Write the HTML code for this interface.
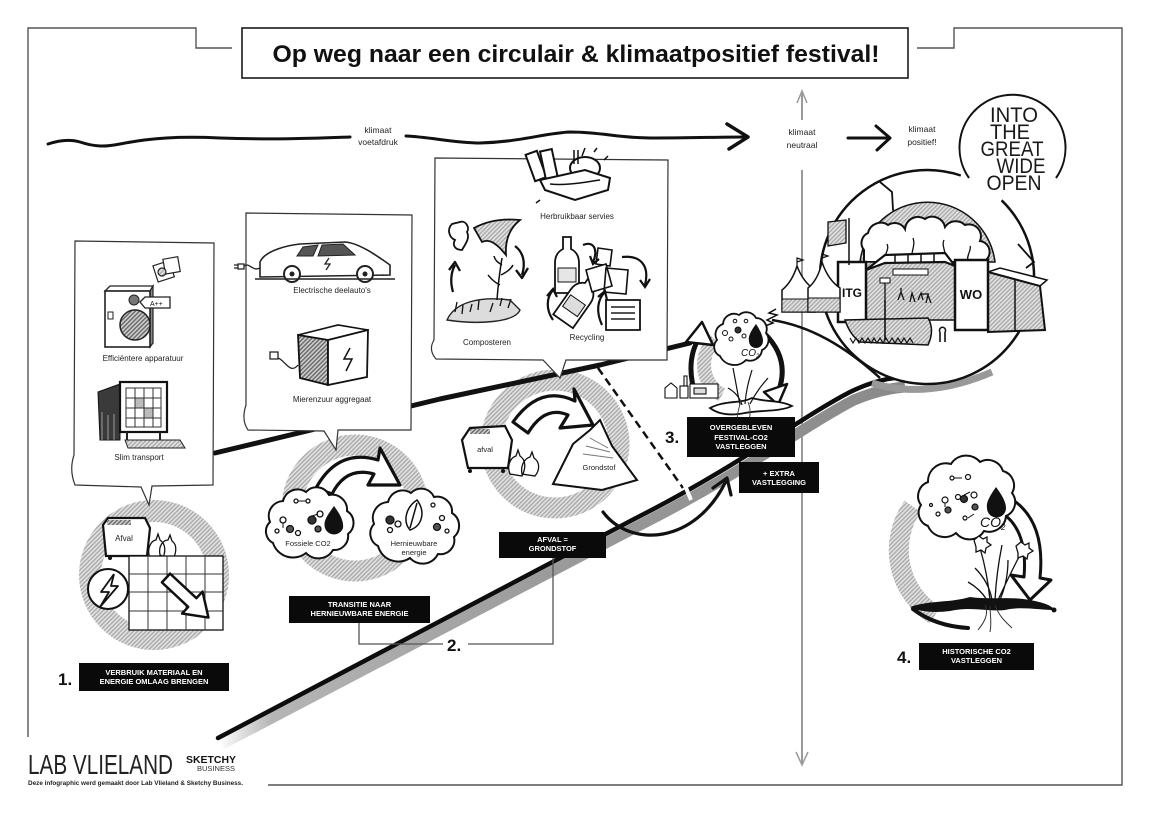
<!DOCTYPE html>
<html><head><meta charset="utf-8"><style>
html,body{margin:0;padding:0;background:#fff;}
svg{display:block;}
text{font-family:"Liberation Sans",sans-serif;}
</style></head><body>
<svg width="1150" height="813" viewBox="0 0 1150 813" xmlns="http://www.w3.org/2000/svg">
<defs>
<pattern id="h" width="3" height="3" patternUnits="userSpaceOnUse" patternTransform="rotate(45)">
<rect width="3" height="3" fill="#e2e2e2"/><rect width="1.3" height="3" fill="#a6a6a6"/>
</pattern>
<pattern id="hd" width="3" height="3" patternUnits="userSpaceOnUse" patternTransform="rotate(45)">
<rect width="3" height="3" fill="#cfcfcf"/><rect width="1.4" height="3" fill="#666"/>
</pattern>
<linearGradient id="sg" x1="218" y1="0" x2="900" y2="0" gradientUnits="userSpaceOnUse">
<stop offset="0" stop-color="#fff"/><stop offset="0.08" stop-color="#b5b5b5"/><stop offset="0.5" stop-color="#9a9a9a"/><stop offset="1" stop-color="#8a8a8a"/>
</linearGradient>
</defs>
<rect width="1150" height="813" fill="#fff"/>

<!-- frame -->
<path d="M28,737 V28 H196 V48 H232 M917,48 H954 V28 H1122 V785 H268" fill="none" stroke="#555" stroke-width="1.4"/>
<rect x="242" y="28" width="666" height="50" fill="#fff" stroke="#1a1a1a" stroke-width="1.6"/>
<text x="576" y="62" font-size="24" font-weight="bold" text-anchor="middle" textLength="607" lengthAdjust="spacingAndGlyphs" fill="#111">Op weg naar een circulair &amp; klimaatpositief festival!</text>

<!-- wavy footprint line -->
<path d="M48,144 C60,140 70,139 80,142 C95,147 105,147 120,144 C150,138 180,136 220,138 C280,140 320,138 350,137 M406,136 C430,137 455,143 480,143 C520,142 545,133 570,132 C600,132 620,138 650,138 C690,138 720,137 745,137" fill="none" stroke="#111" stroke-width="3" stroke-linecap="round"/>
<path d="M727,124 L748,137 L729,149" fill="none" stroke="#111" stroke-width="3.5" stroke-linecap="round" stroke-linejoin="round"/>
<text x="378" y="133" font-size="8.5" text-anchor="middle" fill="#222">klimaat</text>
<text x="378" y="145" font-size="8.5" text-anchor="middle" fill="#222">voetafdruk</text>

<!-- gray vertical line -->
<path d="M802,93 V120 M802,170 V764" stroke="#9a9a9a" stroke-width="2" fill="none"/>
<path d="M797,103 L802,91 L807,103 M796,752 L802,765 L808,752" stroke="#9a9a9a" stroke-width="1.5" fill="none"/>
<text x="802" y="135" font-size="8.5" text-anchor="middle" fill="#222">klimaat</text>
<text x="802" y="148" font-size="8.5" text-anchor="middle" fill="#222">neutraal</text>
<path d="M848,138 H888 M876,126 L890,138 L877,150" fill="none" stroke="#111" stroke-width="3" stroke-linecap="round" stroke-linejoin="round"/>
<text x="922" y="132" font-size="8.5" text-anchor="middle" fill="#222">klimaat</text>
<text x="922" y="145" font-size="8.5" text-anchor="middle" fill="#222">positief!</text>

<!-- INTO THE GREAT WIDE OPEN -->
<path d="M969,178 A53,53 0 1 1 1056,178" fill="none" stroke="#111" stroke-width="2"/>
<g font-size="21" fill="#1a1a1a" text-anchor="middle">
<text x="1014" y="122" textLength="48" lengthAdjust="spacingAndGlyphs">INTO</text>
<text x="1010" y="139" textLength="40" lengthAdjust="spacingAndGlyphs">THE</text>
<text x="1012" y="156" textLength="63" lengthAdjust="spacingAndGlyphs">GREAT</text>
<text x="1021" y="173" textLength="49" lengthAdjust="spacingAndGlyphs">WIDE</text>
<text x="1014" y="190" textLength="55" lengthAdjust="spacingAndGlyphs">OPEN</text>
</g>

<!-- hatched rings -->
<circle cx="154" cy="575" r="64" fill="none" stroke="url(#h)" stroke-width="22"/>
<circle cx="355" cy="508" r="63" fill="none" stroke="url(#h)" stroke-width="21"/>
<circle cx="555" cy="444" r="64" fill="none" stroke="url(#h)" stroke-width="21"/>
<path d="M912.7,506.4 A76,76 0 0 0 935,615" fill="none" stroke="url(#h)" stroke-width="20"/>
<path d="M715,340 A34,34 0 0 0 722,395" fill="none" stroke="url(#h)" stroke-width="14"/>

<!-- upper thick line -->
<path d="M215,453 L440,399 L600,365 L690,343" fill="none" stroke="#111" stroke-width="5" stroke-linecap="round" stroke-linejoin="round"/>

<!-- ramp -->
<path d="M222,744 C384,659 524,585 644,523 C744,472 804,426 854,400 Q880,389 905,387" fill="none" stroke="url(#sg)" stroke-width="11"/>
<path d="M218,738 C380,652 520,578 640,516 C740,465 800,418 850,392 Q875,380 895,378" fill="none" stroke="#0d0d0d" stroke-width="4.5" stroke-linecap="round"/>
<!-- dashed line -->
<path d="M598,368 L683,488" stroke="#111" stroke-width="2.5" stroke-dasharray="8,5" fill="none"/>
<path d="M682,478 L691,500" stroke="#fff" stroke-width="4"/>

<!-- festival circle -->
<path d="M872,383 Q927,400 992,372" fill="none" stroke="#999" stroke-width="7"/>
<circle cx="927" cy="277" r="106" fill="#fff"/>
<path d="M1001.6,200.3 A107,107 0 1 1 960.8,175.5" fill="none" stroke="#111" stroke-width="2.5"/>
<path d="M880,182 L892,192 L893,210 L900,216 M1018,244 L1034,262 L1026,268" fill="none" stroke="#111" stroke-width="1.8"/>
<path d="M860,262 A68,68 0 0 1 995,262 Z" fill="url(#h)" stroke="#111" stroke-width="1.5"/>
<path d="M864,262 L864,250 A11,11 0 0 1 868,233 A13,13 0 0 1 888,225 A12,12 0 0 1 905,229 A13,13 0 0 1 925,219 A13,13 0 0 1 945,227 A13,13 0 0 1 965,225 A12,12 0 0 1 980,241 A11,11 0 0 1 983,262 Z" fill="#fff" stroke="#111" stroke-width="2"/>
<path d="M885,262 C883,255 890,250 887,244 M912,262 C910,252 916,246 913,238 M945,262 C947,252 941,246 944,240 M968,262 C966,255 972,250 970,246" fill="none" stroke="#111" stroke-width="1.3"/>
<rect x="866" y="262" width="89" height="58" fill="url(#h)" stroke="#111" stroke-width="1.5"/>
<path d="M866,270 L885,255 L945,253 L955,266 L945,262 L885,263 Z" fill="#fff" stroke="#111" stroke-width="2.2"/>
<path d="M895,255 V263 M908,254 V262 M921,254 V262 M934,254 V262" stroke="#111" stroke-width="1.5"/>
<rect x="893" y="269" width="35" height="6" fill="#fff" stroke="#111" stroke-width="1"/>
<path d="M898,300 l3,-8 l3,8 M901,292 v-4 M910,302 l2,-9 l3,9 M918,300 l3,-7 l2,7 M926,303 l2,-8 l3,8 M921,294 h8 M885,280 v20" stroke="#111" stroke-width="1.3" fill="none"/>
<rect x="880" y="278" width="10" height="5" fill="#fff" stroke="#111" stroke-width="1"/>
<path d="M988,272 L1000,268 L1047,280 L1040,286 Z" fill="#fff" stroke="#111" stroke-width="1.5"/>
<path d="M988,272 L1040,286 L1045,330 L988,332 Z" fill="url(#h)" stroke="#111" stroke-width="2"/>
<path d="M1015,279 V331" stroke="#111" stroke-width="1.5"/>
<rect x="838" y="262" width="28" height="60" fill="#fff" stroke="#111" stroke-width="2.5"/>
<text x="852" y="297" font-size="12" font-weight="bold" text-anchor="middle" fill="#111">ITG</text>
<rect x="955" y="260" width="33" height="70" fill="#fff" stroke="#111" stroke-width="2.5"/>
<text x="971" y="299" font-size="13" font-weight="bold" text-anchor="middle" fill="#111">WO</text>
<path d="M845,320 Q850,335 860,342 L928,345 Q935,330 928,318 Z" fill="url(#h)" stroke="#111" stroke-width="1.5"/>
<path d="M850,338 l3,5 l3,-5 l3,5 l3,-5 l3,5 l3,-5 l3,5 l3,-5 l3,5 l3,-5 l3,5 l3,-5 l3,5 l3,-5 l3,5 l3,-5 l3,5 l3,-5 l3,5 l3,-5 l3,5" fill="none" stroke="#111" stroke-width="1.2"/>
<path d="M885,300 V340 M940,332 v10 M945,332 v10 M940,332 a3,3 0 1 1 5,0" stroke="#111" stroke-width="1.6" fill="none"/>
<path d="M849,218 V265" stroke="#111" stroke-width="1.5"/>
<path d="M828,222 L846,220 L846,243 L828,246 Z" fill="url(#h)" stroke="#111" stroke-width="1.3"/>
<!-- tents -->
<path d="M782,312 L782,290 Q792,282 797,266 Q803,282 815,290 L815,312 Z" fill="#fff" stroke="#111" stroke-width="1.5"/>
<rect x="782" y="299" width="33" height="13" fill="url(#h)" stroke="#111" stroke-width="1"/>
<path d="M808,312 L808,288 Q818,280 822,262 Q828,280 840,288 L840,312 Z" fill="#fff" stroke="#111" stroke-width="1.5"/>
<rect x="808" y="298" width="32" height="14" fill="url(#h)" stroke="#111" stroke-width="1"/>
<path d="M797,266 V258 l6,2 l-6,2 M822,262 V254 l6,2 l-6,2" fill="none" stroke="#111" stroke-width="1.2"/>
<path d="M776,309 l-7,4 l8,2 l-10,5 l6,3 l-8,3" fill="none" stroke="#111" stroke-width="1.5"/>
<path d="M772,320 C810,326 845,346 880,378" fill="none" stroke="#111" stroke-width="2.5"/>

<!-- panels -->
<path d="M75,241 L214,243 L213,485 L152,486 L149,505 L141,487 L75,485 Q69,470 74,455 Z" fill="#fff" stroke="#333" stroke-width="1.2"/>
<path d="M246,213 L412,215 L411,430 L338,430 L336,450 L324,431 L248,430 Q241,420 246,405 Z" fill="#fff" stroke="#333" stroke-width="1.2"/>
<path d="M435,158 L668,160 L667,360 L566,360 L560,378 L543,360 L436,359 Q428,350 434,340 Z" fill="#fff" stroke="#333" stroke-width="1.2"/>

<!-- panel 1 content -->
<g stroke="#222" stroke-width="1.2">
<rect x="155" y="263" width="17" height="17" fill="#fff" transform="rotate(-18 163 271)"/>
<rect x="164" y="258" width="15" height="15" fill="#fff" transform="rotate(-10 171 265)"/>
<circle cx="162" cy="272" r="4" fill="url(#h)"/>
</g>
<path d="M105,291 L110,286 L153,286 L150,291 Z" fill="#fff" stroke="#222" stroke-width="1.3"/>
<path d="M150,291 L153,286 L153,343 L150,347 Z" fill="#888" stroke="#222" stroke-width="1.2"/>
<rect x="105" y="291" width="45" height="56" fill="#fff" stroke="#222" stroke-width="1.6"/>
<circle cx="135" cy="325" r="15" fill="url(#hd)" stroke="#222" stroke-width="1.5"/>
<circle cx="134" cy="300" r="5" fill="#777" stroke="#222"/>
<rect x="108" y="312" width="5" height="7" fill="none" stroke="#222"/>
<path d="M140,302 L145,297 L170,297 L170,308 L145,308 Z" fill="#fff" stroke="#222" stroke-width="1.3"/>
<text x="150" y="306" font-size="7" fill="#111">A++</text>
<text x="143" y="361" font-size="8" text-anchor="middle" fill="#222">Efficiëntere apparatuur</text>
<path d="M98,392 L120,384 L120,440 L100,440 Z" fill="#3a3a3a" stroke="#111"/>
<path d="M102,412 v28 M108,415 v25 M114,414 v26" stroke="#999" stroke-width="1"/>
<rect x="120" y="382" width="47" height="50" fill="#fff" stroke="#111" stroke-width="2.2"/>
<path d="M126,388 H161 V427 H126 Z M126,398 H161 M126,408 H161 M126,418 H161 M135,388 V427 M144,388 V427 M153,388 V427" fill="none" stroke="#333" stroke-width="1"/>
<path d="M135,398 h9 v10 h-9 z M144,408 h9 v10 h-9 z" fill="#bbb" stroke="#333" stroke-width="1"/>
<path d="M125,440 L180,440 L185,448 L128,448 Z" fill="url(#h)" stroke="#222"/>
<path d="M127,432 v8 M160,432 v8" stroke="#222" stroke-width="2"/>
<text x="139" y="460" font-size="8" text-anchor="middle" fill="#222">Slim transport</text>

<!-- panel 2 content -->
<path d="M260,262 C265,250 290,245 300,244 L345,242 C360,243 380,258 390,265 L390,275 L260,277 Z" fill="#fff" stroke="#222" stroke-width="1.6"/>
<path d="M303,247 L318,245 L313,256 L297,256 Z M322,245 L343,244 L355,255 L318,256 Z" fill="#555" stroke="#222"/>
<circle cx="292" cy="274" r="8" fill="#fff" stroke="#222" stroke-width="2"/>
<circle cx="365" cy="274" r="8" fill="#fff" stroke="#222" stroke-width="2"/>
<circle cx="292" cy="274" r="2.5" fill="#222"/><circle cx="365" cy="274" r="2.5" fill="#222"/>
<path d="M255,279 H395" stroke="#222" stroke-width="1.5"/>
<path d="M329,258 l-4,6 h5 l-4,6" fill="none" stroke="#222" stroke-width="1.3"/>
<path d="M260,268 C252,272 250,262 244,266 M238,264 h6 v5 h-6 z M234,265 h4 M234,268 h4" fill="none" stroke="#222" stroke-width="1.3"/>
<text x="332" y="293" font-size="8" text-anchor="middle" fill="#222">Electrische deelauto's</text>
<path d="M298,335 L338,325 L368,330 L328,340 Z" fill="#fff" stroke="#111" stroke-width="1.6"/>
<path d="M298,335 L328,340 L328,385 L300,378 Z" fill="url(#hd)" stroke="#111" stroke-width="1.8"/>
<path d="M328,340 L368,330 L367,377 L328,385 Z" fill="#fff" stroke="#111" stroke-width="1.8"/>
<path d="M350,348 l-6,11 h8 l-6,12" fill="none" stroke="#111" stroke-width="1.5"/>
<path d="M298,365 C290,375 285,360 278,358 M270,352 h8 v7 h-8 z" fill="none" stroke="#222" stroke-width="1.3"/>
<text x="332" y="402" font-size="8" text-anchor="middle" fill="#222">Mierenzuur aggregaat</text>

<!-- panel 3 content -->
<g stroke="#111" stroke-width="2" fill="#fff">
<rect x="530" y="152" width="12" height="28" transform="rotate(-20 536 166)"/>
<rect x="543" y="150" width="12" height="30" transform="rotate(-12 549 165)"/>
<ellipse cx="585" cy="168" rx="15" ry="11"/>
<path d="M540,180 L585,170 L610,178 L608,190 L575,200 L545,190 Z"/>
</g>
<path d="M550,184 C565,186 585,182 600,180" fill="none" stroke="#111" stroke-width="1.5"/>
<path d="M574,150 v14 M578,150 v14 M585,148 l-3,8 M594,152 l3,-4 M540,200 l-4,3 M604,160 l4,-4" stroke="#111" stroke-width="1.5"/>
<text x="577" y="219" font-size="8" text-anchor="middle" fill="#222">Herbruikbaar servies</text>
<path d="M452,224 C446,230 450,238 455,240 C452,245 455,250 462,250 C466,243 470,238 467,232 C470,228 466,220 460,222 Z" fill="#fff" stroke="#111" stroke-width="1.8"/>
<path d="M474,228 C485,222 500,218 520,220 C510,228 505,240 506,255 C498,245 490,238 482,242 Z" fill="url(#h)" stroke="#111" stroke-width="1.8"/>
<path d="M447,320 C455,302 480,296 510,300 L520,310 C515,322 480,325 447,320 Z" fill="#dcdcdc" stroke="#222" stroke-width="1.4"/>
<path d="M455,312 l2,-10 M462,314 l1,-9 M470,312 l2,-8 M478,310 l1,-10 M490,312 l3,-9 M500,306 l2,-8 M508,308 l3,-9" stroke="#111" stroke-width="1.3"/>
<path d="M497,300 C498,285 500,270 502,258 M500,285 c-8,-4 -10,-8 -12,-10 M501,275 c6,-3 10,-6 12,-10 M502,265 c-5,-3 -7,-5 -8,-9" fill="none" stroke="#111" stroke-width="1.5"/>
<path d="M453,292 C450,282 451,272 455,265 M449,270 L455,262 L460,271" fill="none" stroke="#111" stroke-width="2.3" stroke-linejoin="round"/>
<path d="M515,246 C523,252 526,262 522,275 M516,270 L522,278 L528,268" fill="none" stroke="#111" stroke-width="2.3" stroke-linejoin="round"/>
<text x="487" y="345" font-size="8" text-anchor="middle" fill="#222">Composteren</text>
<path d="M563,237 h8 v12 c6,3 8,8 8,14 v30 h-24 v-30 c0,-6 2,-11 8,-14 z" fill="#fff" stroke="#111" stroke-width="1.8"/>
<rect x="558" y="268" width="18" height="14" fill="#e6e6e6" stroke="#111"/>
<g transform="rotate(35 578 300)">
<path d="M574,272 h8 v10 c6,3 8,8 8,14 v30 h-24 v-30 c0,-6 2,-11 8,-14 z" fill="#fff" stroke="#111" stroke-width="1.8"/>
<rect x="569" y="300" width="18" height="14" fill="#ddd" stroke="#111"/>
</g>
<path d="M598,248 l14,2 l-2,16 l-14,-2 z" fill="#fff" stroke="#111" stroke-width="1.6"/>
<path d="M586,270 l20,-6 l6,22 l-20,6 z M606,268 l22,2 l-2,24 l-22,-2 z" fill="#fff" stroke="#111" stroke-width="1.6"/>
<path d="M606,300 h34 v30 h-34 z" fill="#fff" stroke="#111" stroke-width="1.8"/>
<path d="M611,307 h24 M611,313 h24 M611,319 h24" stroke="#555" stroke-width="2"/>
<path d="M583,245 C595,240 598,252 593,262 M590,256 l3,8 l6,-5" fill="none" stroke="#111" stroke-width="2.2"/>
<path d="M553,320 C546,310 546,298 553,290 M547,296 l6,-7 l4,8" fill="none" stroke="#111" stroke-width="2.2"/>
<path d="M622,257 C640,255 650,265 645,285 M640,280 l5,7 l5,-8" fill="none" stroke="#111" stroke-width="2.2"/>
<path d="M602,325 C596,312 597,300 605,292 M598,297 l7,-6 l2,9" fill="none" stroke="#111" stroke-width="2.2"/>
<text x="587" y="340" font-size="8" text-anchor="middle" fill="#222">Recycling</text>

<!-- circle 1 content -->
<path d="M103,525 L108,518 L145,518 L150,528 L147,556 L106,556 Z" fill="#fff" stroke="#111" stroke-width="2.2"/>
<rect x="107" y="520" width="24" height="5" fill="url(#hd)"/>
<text x="124" y="541" font-size="8" text-anchor="middle" fill="#222">Afval</text>
<circle cx="110" cy="558" r="2" fill="#111"/><circle cx="142" cy="558" r="2" fill="#111"/>
<path d="M150,558 C146,548 152,540 156,540 L158,534 L160,540 C166,544 166,552 162,560 Z M160,555 C158,545 164,540 168,540 L170,535 L172,541 C178,545 176,555 172,560 Z" fill="#fff" stroke="#111" stroke-width="1.3"/>
<rect x="129" y="556" width="94" height="74" fill="#fff" stroke="#111" stroke-width="1.3"/>
<path d="M148,556 V630 M167,556 V630 M186,556 V630 M205,556 V630 M129,574 H223 M129,592 H223 M129,611 H223" stroke="#333" stroke-width="1"/>
<polygon points="0,-6 36,-6 36,-15 58,0 36,15 36,6 0,6" transform="translate(166,578) rotate(43)" fill="#fff" stroke="#111" stroke-width="2.5" stroke-linejoin="round"/>
<circle cx="108" cy="589" r="20" fill="#fff" stroke="#111" stroke-width="2"/>
<path d="M114,574 L101,592 L109,592 L100,607 M114,574 L111,586 L118,586 L100,607" fill="none" stroke="#111" stroke-width="1.8" stroke-linejoin="round"/>

<!-- circle 2 content -->
<path d="M316,488 Q338,448 378,460 L380,448 L400,485 L368,485 L374,474 Q346,466 332,494 Z" fill="#fff" stroke="#111" stroke-width="3.2" stroke-linejoin="round"/>
<path d="M273,543 A13,13 0 0 1 270,522 A15,15 0 0 1 283,501 A15,15 0 0 1 306,492 A14,14 0 0 1 329,495 A15,15 0 0 1 347,511 A14,14 0 0 1 348,534 A14,14 0 0 1 333,550 A17,17 0 0 1 306,553 A21,21 0 0 1 273,543 Z" fill="#fff" stroke="#111" stroke-width="2"/>
<path d="M334,506 C327,516 323,521 325,528 A9.5,9.5 0 0 0 343,528 C344,520 339,513 334,506 Z" fill="#111"/>
<g fill="#fff" stroke="#111" stroke-width="1.3">
<circle cx="283" cy="520" r="3"/><circle cx="290" cy="529" r="3.5" fill="#555"/><circle cx="298" cy="533" r="2.5"/><circle cx="312" cy="520" r="4" fill="#333"/><circle cx="320" cy="514" r="3"/><circle cx="318" cy="529" r="3" fill="#555"/><circle cx="296" cy="501" r="2"/><circle cx="308" cy="501" r="2"/><circle cx="277" cy="531" r="2"/>
</g>
<path d="M283,523 v5 M312,516 l6,-2 M298,501 h8" stroke="#111"/>
<text x="308" y="546" font-size="7.5" text-anchor="middle" fill="#222">Fossiele CO2</text>
<path d="M378,546 A14,14 0 0 1 374,524 A16,16 0 0 1 388,502 A15,15 0 0 1 411,493 A14,14 0 0 1 434,497 A15,15 0 0 1 452,513 A15,15 0 0 1 454,537 A14,14 0 0 1 438,554 A17,17 0 0 1 410,558 A21,21 0 0 1 378,546 Z" fill="#fff" stroke="#111" stroke-width="2"/>
<path d="M417,500 C405,508 403,522 410,530 C422,526 426,512 417,500 Z M417,503 L410,528" fill="#fff" stroke="#111" stroke-width="1.5"/>
<g fill="#fff" stroke="#111" stroke-width="1.3">
<circle cx="390" cy="520" r="4" fill="#333"/><circle cx="398" cy="524" r="3"/><circle cx="390" cy="530" r="2.5"/><circle cx="437" cy="527" r="3.5" fill="#555"/><circle cx="442" cy="518" r="2.5"/><circle cx="433" cy="505" r="2"/><circle cx="447" cy="531" r="2"/>
</g>
<text x="414" y="546" font-size="7.5" text-anchor="middle" fill="#222">Hernieuwbare</text>
<text x="414" y="555" font-size="7.5" text-anchor="middle" fill="#222">energie</text>

<!-- circle 3 content -->
<path d="M513,422 Q540,384 575,401 L574,389 L593,425 L560,428 L568,415 Q545,405 528,433 Z" fill="#fff" stroke="#111" stroke-width="3.2" stroke-linejoin="round"/>
<path d="M462,440 L470,428 L505,426 L512,440 L508,468 L468,468 Z" fill="#fff" stroke="#111" stroke-width="2.2"/>
<rect x="470" y="429" width="20" height="5" fill="url(#hd)"/>
<text x="485" y="452" font-size="7.5" text-anchor="middle" fill="#222">afval</text>
<circle cx="470" cy="471" r="2" fill="#111"/><circle cx="503" cy="471" r="2" fill="#111"/>
<path d="M510,474 C506,464 512,457 516,456 L518,450 L520,456 C526,460 526,468 522,476 Z M522,474 C520,464 526,458 530,457 L532,452 L534,458 C540,462 540,470 535,476 Z" fill="#fff" stroke="#111" stroke-width="1.3"/>
<path d="M553,484 L573,444 L590,430 L600,420 L612,446 L637,480 L602,490 Z" fill="#fff" stroke="#111" stroke-width="2"/>
<path d="M590,438 l18,10 M586,446 l24,6 M583,454 l30,4" stroke="#777" stroke-width="1"/>
<text x="599" y="470" font-size="7.5" text-anchor="middle" fill="#222">Grondstof</text>

<!-- step 3 -->
<path d="M694,390 Q686,360 699,338" fill="none" stroke="#111" stroke-width="5"/>
<path d="M686,342 L702,322 L713,345 Z" fill="#fff" stroke="#111" stroke-width="2.5" stroke-linejoin="round"/>
<path d="M764,333 Q792,360 777,395" fill="none" stroke="#111" stroke-width="5"/>
<path d="M764,392 L778,405 L787,384 Z" fill="#fff" stroke="#111" stroke-width="2.5" stroke-linejoin="round"/>
<path d="M720,356 A10,10 0 0 1 717,340 A11,11 0 0 1 723,324 A11,11 0 0 1 739,315 A11,11 0 0 1 756,318 A11,11 0 0 1 766,333 A11,11 0 0 1 762,350 A12,12 0 0 1 746,360 A16,16 0 0 1 720,356 Z" fill="#fff" stroke="#111" stroke-width="1.8"/>
<path d="M756,324 C750,332 748,337 749,341 A7,7 0 0 0 763,341 C763,336 760,330 756,324 Z" fill="#111"/>
<g fill="#fff" stroke="#111" stroke-width="1"><circle cx="725" cy="333" r="2.5"/><circle cx="731" cy="339" r="2"/><circle cx="738" cy="330" r="3" fill="#333"/><circle cx="744" cy="336" r="2"/><circle cx="735" cy="321" r="1.8"/><circle cx="746" cy="321" r="1.8"/></g>
<text x="741" y="356" font-size="10" font-style="italic" fill="#111">CO<tspan font-size="6" dy="2">2</tspan></text>
<g fill="#fff" stroke="#111" stroke-width="1.1">
<path d="M665,398 V388 l6,-5 l6,5 V398 Z"/><rect x="680" y="386" width="8" height="12"/><rect x="684" y="376" width="3" height="10"/>
<rect x="690" y="384" width="28" height="14"/><rect x="694" y="388" width="12" height="6" fill="#ddd"/>
</g>
<path d="M710,408 C725,400 740,404 752,398 C765,402 780,400 792,406 C780,412 760,410 745,413 C730,416 718,414 710,408 Z" fill="#fff" stroke="#111" stroke-width="1.8"/>
<path d="M740,405 C737,390 735,378 733,368 M745,404 C746,390 749,380 752,370 M750,404 C756,392 762,385 768,378 M742,405 C740,398 735,392 728,388" fill="none" stroke="#111" stroke-width="1.2"/>
<path d="M741,400 C738,412 735,420 740,425 M748,402 C752,412 750,420 745,426" fill="none" stroke="#444" stroke-width="1"/>

<!-- +extra arrow -->
<path d="M603,512 C630,548 695,545 726,481" fill="none" stroke="#111" stroke-width="3.2" stroke-linecap="round"/>
<path d="M713,488 L727,478 L731,495" fill="none" stroke="#111" stroke-width="3.2" stroke-linecap="round" stroke-linejoin="round"/>

<!-- step 4 -->
<path d="M1010,498 Q1046,520 1040,578 L1051,580 L1030,600 L1011,575 L1024,577 Q1028,530 1002,513 Z" fill="#fff" stroke="#111" stroke-width="3" stroke-linejoin="round"/>
<path d="M928,526 A14,14 0 0 1 921,505 A15,15 0 0 1 928,482 A18,18 0 0 1 951,464 A18,18 0 0 1 980,462 A16,16 0 0 1 1003,471 A15,15 0 0 1 1012,493 A15,15 0 0 1 1006,516 A17,17 0 0 1 984,531 A17,17 0 0 1 956,533 A18,18 0 0 1 928,526 Z" fill="#fff" stroke="#111" stroke-width="2"/>
<path d="M996,487 C989,497 986,503 987,508 A9.5,9.5 0 0 0 1006,508 C1006,502 1002,495 996,487 Z" fill="#111"/>
<g fill="#fff" stroke="#111" stroke-width="1.2">
<circle cx="945" cy="500" r="3"/><circle cx="948" cy="510" r="3" fill="#555"/><circle cx="958" cy="497" r="2.5"/><circle cx="964" cy="499" r="3.5" fill="#333"/><circle cx="974" cy="495" r="3"/><circle cx="975" cy="507" r="3" fill="#555"/><circle cx="952" cy="478" r="2"/><circle cx="968" cy="477" r="2.5"/><circle cx="938" cy="514" r="2"/><circle cx="965" cy="518" r="2"/><circle cx="931" cy="505" r="1.5"/>
</g>
<path d="M945,503 v4 M964,495 l6,-3 M954,478 h8 M968,518 l6,-4" stroke="#111"/>
<text x="980" y="527" font-size="14" font-style="italic" fill="#111">CO<tspan font-size="8" dy="3">2</tspan></text>
<path d="M913,609 Q935,626 968,628" fill="none" stroke="#111" stroke-width="4" stroke-linecap="round"/>
<path d="M910,607 C930,600 950,603 970,597 C990,600 1010,596 1030,600 C1040,602 1050,604 1055,610 C1040,610 1020,606 1005,610 C990,612 970,606 950,611 C935,613 920,612 910,607 Z" fill="#111"/>
<path d="M985,605 C990,615 982,625 978,630 M995,605 C1000,618 1006,622 1012,628 M990,606 C990,615 992,622 990,632" fill="none" stroke="#333" stroke-width="1"/>
<path d="M990,600 C988,580 985,565 980,548 M995,600 C996,580 998,565 1002,545 M998,600 C1005,585 1012,570 1020,555 M992,600 C990,588 985,578 975,568 M1000,600 C1004,590 1008,578 1008,560 M987,600 C982,592 975,586 968,582" fill="none" stroke="#111" stroke-width="1.3"/>
<path d="M974,540 l5,-4 l4,3 l4,-2 l0,5 l4,3 l-5,3 l-1,5 l-4,-3 l-5,2 l0,-5 z M1016,546 l5,-4 l4,3 l4,-2 l0,5 l4,3 l-5,3 l-1,5 l-4,-3 l-5,2 l0,-5 z" fill="#fff" stroke="#111" stroke-width="1.3"/>
<circle cx="1054" cy="610" r="2.5" fill="#111"/>

<!-- bracket for 2 -->
<path d="M359,623 V644 H443 M468,644 H553 V558" fill="none" stroke="#555" stroke-width="1.3"/>

<!-- labels -->
<g font-weight="bold" font-size="7.5" fill="#fff" text-anchor="middle">
<rect x="79" y="663" width="150" height="28" fill="#0a0a0a"/>
<text x="154" y="675">VERBRUIK MATERIAAL EN</text>
<text x="154" y="684">ENERGIE OMLAAG BRENGEN</text>
<rect x="289" y="596" width="141" height="27" fill="#0a0a0a"/>
<text x="359.5" y="607">TRANSITIE NAAR</text>
<text x="359.5" y="616">HERNIEUWBARE ENERGIE</text>
<rect x="499" y="532" width="107" height="26" fill="#0a0a0a"/>
<text x="552.5" y="542">AFVAL =</text>
<text x="552.5" y="551">GRONDSTOF</text>
<rect x="687" y="417" width="108" height="40" fill="#0a0a0a"/>
<text x="741" y="430">OVERGEBLEVEN</text>
<text x="741" y="440">FESTIVAL-CO2</text>
<text x="741" y="449">VASTLEGGEN</text>
<rect x="739" y="462" width="80" height="31" fill="#0a0a0a"/>
<text x="779" y="476">+ EXTRA</text>
<text x="779" y="485">VASTLEGGING</text>
<rect x="919" y="643" width="115" height="27" fill="#0a0a0a"/>
<text x="976.5" y="654">HISTORISCHE CO2</text>
<text x="976.5" y="663">VASTLEGGEN</text>
</g>
<g font-weight="bold" font-size="17" fill="#111">
<text x="58" y="685">1.</text>
<text x="447" y="651">2.</text>
<text x="665" y="443">3.</text>
<text x="897" y="663">4.</text>
</g>

<!-- logos -->
<text x="28" y="774" font-size="28" fill="#222" textLength="145" lengthAdjust="spacingAndGlyphs">LAB VLIELAND</text>
<text x="186" y="763" font-size="10" font-weight="bold" fill="#111" textLength="50" lengthAdjust="spacingAndGlyphs">SKETCHY</text>
<text x="197" y="771" font-size="7" fill="#333" textLength="38" lengthAdjust="spacingAndGlyphs">BUSINESS</text>
<text x="28" y="785" font-size="6.5" font-weight="bold" fill="#222" textLength="215" lengthAdjust="spacingAndGlyphs">Deze infographic werd gemaakt door Lab Vlieland &amp; Sketchy Business.</text>
</svg>
</body></html>
